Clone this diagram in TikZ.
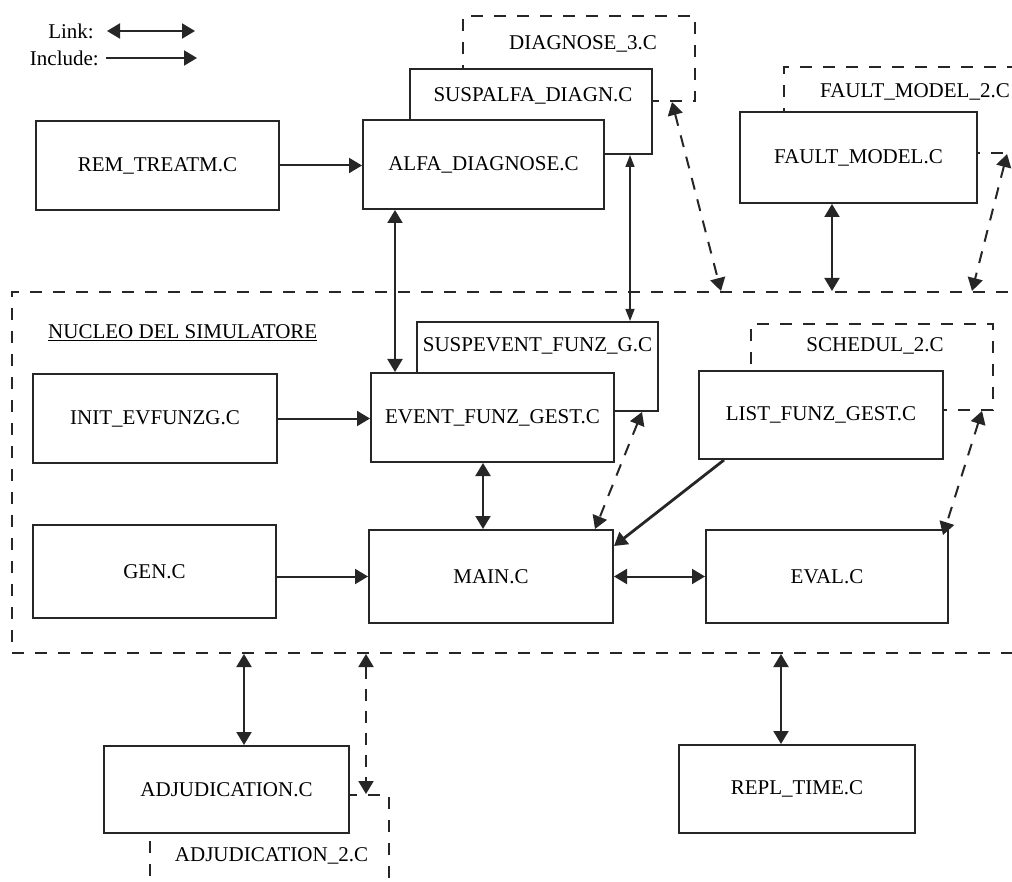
\documentclass[tikz,border=0pt]{standalone}
\usepackage{fontspec}
\setmainfont{Liberation Serif}
\usetikzlibrary{arrows.meta,calc}

\newcommand{\boxfont}{\fontsize{21}{24}\selectfont}

\tikzset{
  >={Triangle[length=13pt,width=15pt]},
  box/.style={draw=black!85, line width=2pt, fill=white, inner sep=0pt,
    minimum width=243pt, minimum height=89pt, font=\boxfont},
  dbox/.style={box, dash pattern=on 12pt off 11pt},
  lbl/.style={inner sep=0pt, font=\boxfont},
  link/.style={<->, draw=black!85, line width=2pt},
  linksm/.style={{Triangle[length=12pt,width=9pt]}-{Triangle[length=12pt,width=9pt]}, draw=black!85, line width=1.5pt},
  incl/.style={->, draw=black!85, line width=2pt},
  dlink/.style={link, dash pattern=on 12pt off 10pt},
}

\begin{document}
\begin{tikzpicture}[x=1pt, y=-1pt]
\useasboundingbox (0,0) rectangle (1012,882);
\clip (0,0) rectangle (1012,882);

% Legend
\node[lbl, anchor=east] (lglink) at (94,31) {Link:};
\node[lbl, anchor=east] (lgincl) at (99,58) {Include:};
\coordinate (lglinkend) at (195,31);
\coordinate (lginclend) at (197,58);
\draw[link] ([xshift=13]lglink.east) -- (lglinkend);
\draw[incl] ([xshift=7]lgincl.east) -- (lginclend);

% Simulator core frame
\node[dbox, fill=none, minimum width=1088pt, minimum height=361pt] (nucleo) at (556,472.5) {};
\node[lbl, anchor=west] (nucleolbl) at (48,333) {\underline{NUCLEO DEL SIMULATORE}};

% Dashed (alternative) modules, drawn first so the boxes cover them
\node[dbox, minimum width=232pt, minimum height=85pt] (diag3) at (579,58.5) {};
\node[lbl] (diag3lbl) at ([xshift=4,yshift=-29]diag3.north) {DIAGNOSE\_3.C};
\node[dbox, minimum width=316pt, minimum height=86pt] (fault2) at (942,110) {};
\node[lbl, anchor=west] (fault2lbl) at (820,92) {FAULT\_MODEL\_2.C};
\node[dbox, minimum width=242pt, minimum height=86pt] (sched2) at (872,367) {};
\node[lbl] (sched2lbl) at ([xshift=3,yshift=-23]sched2.north) {SCHEDUL\_2.C};
\node[dbox, minimum width=239pt, minimum height=120pt] (adj2) at (269.5,855) {};
\node[lbl] (adj2lbl) at ([xshift=2,yshift=-62]adj2.north) {ADJUDICATION\_2.C};

% Secondary modules
\node[box, minimum width=242pt, minimum height=85pt] (suspalfa) at (531,111.5) {};
\node[lbl] (suspalfalbl) at ([xshift=2,yshift=-28]suspalfa.north) {SUSPALFA\_DIAGN.C};
\node[box, minimum width=241pt] (suspevent) at (537.5,366.5) {};
\node[lbl] (suspeventlbl) at ([yshift=-25]suspevent.north) {SUSPEVENT\_FUNZ\_G.C};

% Main modules
\node[box] (rem) at (157.5,165.5) {REM\_TREATM.C};
\node[box, minimum width=241pt] (alfa) at (483.5,164.5) {ALFA\_DIAGNOSE.C};
\node[box, minimum width=237pt, minimum height=91pt] (fault) at (858.5,157.5) {FAULT\_MODEL.C};
\node[box, minimum width=244pt] (init) at (155,418.5) {INIT\_EVFUNZG.C};
\node[box] (event) at (492.5,417.5) {EVENT\_FUNZ\_GEST.C};
\node[box, minimum width=244pt, minimum height=88pt] (list) at (821,415) {LIST\_FUNZ\_GEST.C};
\node[box, minimum height=93pt] (gen) at (154.5,571.5) {GEN.C};
\node[box, minimum width=244pt, minimum height=93pt] (main) at (491,576.5) {MAIN.C};
\node[box, minimum width=242pt, minimum height=93pt] (eval) at (827,576.5) {EVAL.C};
\node[box, minimum width=245pt, minimum height=87pt] (adj) at (226.5,789.5) {ADJUDICATION.C};
\node[box, minimum width=236pt, minimum height=88pt] (repl) at (797,789) {REPL\_TIME.C};

% Include connectors
\draw[incl] (rem.east) -- (rem.east -| alfa.west);
\draw[incl] (init.east) -- (init.east -| event.west);
\draw[incl] (main.west -| gen.east) -- (main.west);
\draw[incl, line width=2.8pt] ([xshift=26]list.south west) -- ([yshift=-17]main.north east);

% Link connectors
\draw[link] ([xshift=33]alfa.south west) -- ([xshift=25]event.north west);
\draw[linksm] ([xshift=221]suspalfa.south west) -- ([xshift=214]suspevent.north west);
\draw[link] ([xshift=113]event.south west) -- ([xshift=115]main.north west);
\draw[link] (main.east) -- (eval.west);
\draw[link] ([xshift=93]fault.south west) -- ([xshift=821]nucleo.north west);
\draw[link] ([xshift=233]nucleo.south west) -- ([xshift=141]adj.north west);
\draw[link] ([xshift=770]nucleo.south west) -- ([xshift=103]repl.north west);

% Dashed links to the alternative modules
\draw[dlink] ([xshift=210]diag3.south west) -- ([xshift=710]nucleo.north west);
\draw[dlink] ([xshift=224]fault2.south west) -- ([xshift=961]nucleo.north west);
\draw[dlink] ([xshift=226]suspevent.south west) -- ([xshift=227]main.north west);
\draw[dlink] ([xshift=232]sched2.south west) -- ([xshift=-6,yshift=-6]eval.north east);
\draw[dlink] ([xshift=355]nucleo.south west) -- ([xshift=217]adj2.north west);
\end{tikzpicture}
\end{document}
